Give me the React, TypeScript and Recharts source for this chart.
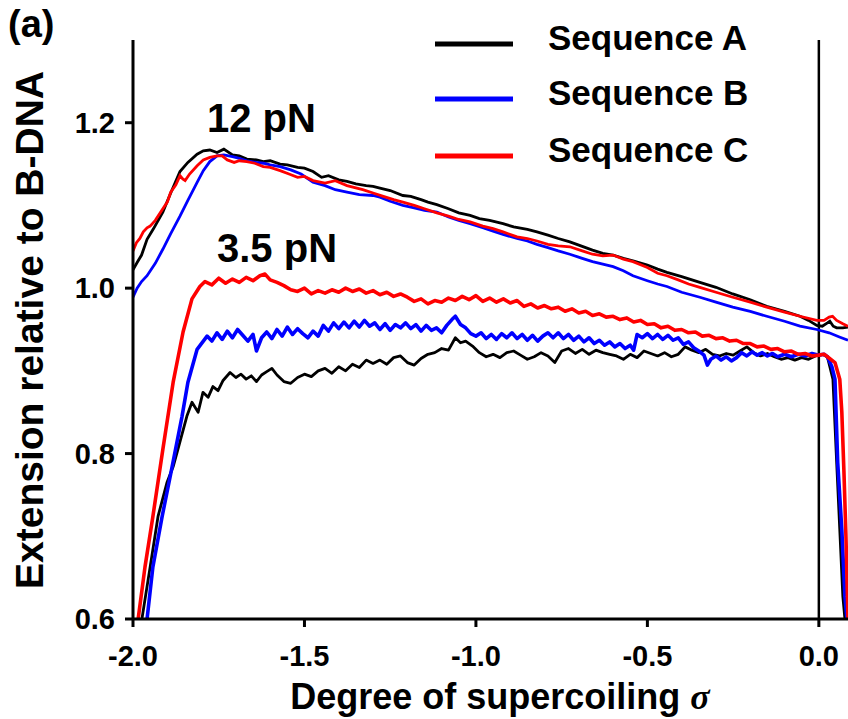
import React from "react";
import {
  LineChart,
  Line,
  XAxis,
  YAxis,
  Legend,
  ReferenceLine,
} from "recharts";

const sigmaTicks = [-2, -1.5, -1, -0.5, 0];
const extTicks = [0.6, 0.8, 1.0, 1.2];
const seriesNames = ["Sequence A", "Sequence B", "Sequence C"];
const forceLabels = ["12 pN", "3.5 pN"];

// 12 pN traces: [sigma, extension]
const seqA12 = [
  [-2.0, 1.022], [-1.988, 1.031], [-1.975, 1.04], [-1.959, 1.059], [-1.94, 1.072], [-1.913, 1.092],
  [-1.89, 1.115], [-1.863, 1.141], [-1.84, 1.152], [-1.813, 1.162], [-1.795, 1.166], [-1.776, 1.167],
  [-1.755, 1.164], [-1.735, 1.168], [-1.71, 1.161], [-1.69, 1.16], [-1.668, 1.156], [-1.64, 1.155],
  [-1.62, 1.153], [-1.6, 1.154], [-1.571, 1.15], [-1.55, 1.149], [-1.52, 1.146], [-1.5, 1.145],
  [-1.475, 1.141], [-1.45, 1.134], [-1.43, 1.136], [-1.4, 1.131], [-1.376, 1.129], [-1.35, 1.126],
  [-1.32, 1.124], [-1.3, 1.123], [-1.28, 1.121], [-1.25, 1.118], [-1.213, 1.112], [-1.19, 1.111],
  [-1.16, 1.107], [-1.14, 1.104], [-1.114, 1.101], [-1.08, 1.096], [-1.05, 1.091], [-1.017, 1.088],
  [-0.99, 1.084], [-0.96, 1.082], [-0.921, 1.078], [-0.89, 1.074], [-0.85, 1.071], [-0.822, 1.068],
  [-0.79, 1.064], [-0.76, 1.06], [-0.726, 1.056], [-0.7, 1.052], [-0.66, 1.046], [-0.63, 1.042],
  [-0.6, 1.04], [-0.57, 1.036], [-0.542, 1.033], [-0.5, 1.028], [-0.47, 1.023], [-0.443, 1.019],
  [-0.4, 1.014], [-0.37, 1.01], [-0.347, 1.007], [-0.3, 1.001], [-0.251, 0.993], [-0.2, 0.986],
  [-0.152, 0.978], [-0.1, 0.972], [-0.055, 0.966], [-0.03, 0.961], [-0.006, 0.955], [0.01, 0.954],
  [0.025, 0.958], [0.032, 0.96], [0.042, 0.954], [0.052, 0.952], [0.07, 0.952], [0.085, 0.953],
];

const seqB12 = [
  [-2.0, 0.989], [-1.988, 1.0], [-1.975, 1.008], [-1.959, 1.015], [-1.935, 1.03], [-1.913, 1.047],
  [-1.89, 1.066], [-1.863, 1.087], [-1.84, 1.106], [-1.813, 1.128], [-1.795, 1.142], [-1.776, 1.153],
  [-1.755, 1.16], [-1.735, 1.161], [-1.71, 1.159], [-1.69, 1.157], [-1.668, 1.154], [-1.64, 1.152],
  [-1.62, 1.151], [-1.6, 1.149], [-1.571, 1.147], [-1.54, 1.143], [-1.51, 1.138], [-1.475, 1.128],
  [-1.44, 1.124], [-1.41, 1.119], [-1.376, 1.116], [-1.34, 1.113], [-1.3, 1.112], [-1.28, 1.11],
  [-1.25, 1.105], [-1.213, 1.1], [-1.18, 1.097], [-1.15, 1.094], [-1.114, 1.092], [-1.08, 1.086],
  [-1.05, 1.082], [-1.017, 1.078], [-0.98, 1.073], [-0.95, 1.069], [-0.921, 1.065], [-0.88, 1.06],
  [-0.85, 1.057], [-0.822, 1.053], [-0.79, 1.049], [-0.76, 1.045], [-0.726, 1.041], [-0.69, 1.036],
  [-0.66, 1.032], [-0.63, 1.029], [-0.6, 1.026], [-0.57, 1.021], [-0.542, 1.015], [-0.5, 1.009],
  [-0.47, 1.005], [-0.443, 1.002], [-0.4, 0.995], [-0.347, 0.989], [-0.3, 0.983], [-0.251, 0.977],
  [-0.2, 0.972], [-0.152, 0.966], [-0.1, 0.96], [-0.055, 0.954], [-0.006, 0.95], [0.03, 0.946],
  [0.06, 0.941], [0.085, 0.937],
];

const seqC12 = [
  [-2.0, 1.045], [-1.99, 1.055], [-1.98, 1.06], [-1.97, 1.068], [-1.959, 1.073], [-1.95, 1.075],
  [-1.935, 1.082], [-1.913, 1.096], [-1.9, 1.104], [-1.89, 1.116], [-1.875, 1.125], [-1.863, 1.136],
  [-1.855, 1.132], [-1.848, 1.13], [-1.835, 1.138], [-1.813, 1.148], [-1.795, 1.155], [-1.776, 1.158],
  [-1.755, 1.16], [-1.74, 1.16], [-1.725, 1.155], [-1.705, 1.152], [-1.69, 1.154], [-1.668, 1.153],
  [-1.645, 1.151], [-1.62, 1.147], [-1.6, 1.146], [-1.571, 1.142], [-1.545, 1.138], [-1.52, 1.134],
  [-1.5, 1.135], [-1.475, 1.13], [-1.44, 1.127], [-1.41, 1.13], [-1.376, 1.124], [-1.33, 1.119],
  [-1.3, 1.115], [-1.27, 1.111], [-1.24, 1.107], [-1.213, 1.104], [-1.18, 1.1], [-1.15, 1.096],
  [-1.114, 1.091], [-1.08, 1.087], [-1.05, 1.083], [-1.017, 1.08], [-0.98, 1.075], [-0.95, 1.072],
  [-0.921, 1.068], [-0.88, 1.062], [-0.85, 1.06], [-0.822, 1.057], [-0.79, 1.053], [-0.76, 1.051],
  [-0.726, 1.05], [-0.69, 1.045], [-0.66, 1.041], [-0.63, 1.039], [-0.6, 1.04], [-0.57, 1.035],
  [-0.542, 1.032], [-0.5, 1.025], [-0.47, 1.018], [-0.443, 1.015], [-0.41, 1.01], [-0.38, 1.005],
  [-0.347, 1.001], [-0.3, 0.995], [-0.251, 0.989], [-0.2, 0.983], [-0.152, 0.977], [-0.1, 0.971],
  [-0.055, 0.966], [-0.006, 0.961], [0.015, 0.961], [0.03, 0.965], [0.04, 0.966], [0.052, 0.961],
  [0.07, 0.957], [0.085, 0.954],
];

// 3.5 pN traces
const seqA35 = [
  [-1.974, 0.6], [-1.95, 0.663], [-1.927, 0.724], [-1.901, 0.765], [-1.883, 0.784], [-1.869, 0.805],
  [-1.843, 0.845], [-1.828, 0.862], [-1.81, 0.85], [-1.796, 0.874], [-1.781, 0.868], [-1.767, 0.881],
  [-1.752, 0.876], [-1.738, 0.888], [-1.717, 0.898], [-1.7, 0.892], [-1.685, 0.896], [-1.67, 0.89],
  [-1.655, 0.894], [-1.64, 0.887], [-1.625, 0.895], [-1.61, 0.899], [-1.595, 0.903], [-1.58, 0.895],
  [-1.56, 0.887], [-1.54, 0.885], [-1.52, 0.892], [-1.5, 0.896], [-1.48, 0.893], [-1.46, 0.9],
  [-1.44, 0.903], [-1.42, 0.897], [-1.4, 0.905], [-1.38, 0.9], [-1.36, 0.908], [-1.34, 0.904],
  [-1.32, 0.913], [-1.3, 0.909], [-1.28, 0.913], [-1.26, 0.908], [-1.24, 0.916], [-1.22, 0.918],
  [-1.2, 0.91], [-1.18, 0.907], [-1.16, 0.915], [-1.14, 0.92], [-1.12, 0.922], [-1.1, 0.927],
  [-1.08, 0.925], [-1.06, 0.94], [-1.045, 0.934], [-1.03, 0.936], [-1.01, 0.93], [-0.99, 0.922],
  [-0.97, 0.917], [-0.95, 0.92], [-0.93, 0.916], [-0.91, 0.922], [-0.89, 0.924], [-0.87, 0.919],
  [-0.85, 0.914], [-0.83, 0.917], [-0.81, 0.922], [-0.79, 0.918], [-0.77, 0.91], [-0.75, 0.924],
  [-0.73, 0.927], [-0.71, 0.921], [-0.69, 0.926], [-0.67, 0.92], [-0.65, 0.925], [-0.63, 0.922],
  [-0.61, 0.92], [-0.59, 0.918], [-0.57, 0.914], [-0.55, 0.92], [-0.53, 0.916], [-0.51, 0.924],
  [-0.49, 0.921], [-0.47, 0.918], [-0.45, 0.922], [-0.43, 0.917], [-0.41, 0.92], [-0.39, 0.929],
  [-0.37, 0.925], [-0.35, 0.922], [-0.33, 0.926], [-0.31, 0.92], [-0.29, 0.918], [-0.27, 0.921],
  [-0.25, 0.919], [-0.23, 0.924], [-0.21, 0.929], [-0.19, 0.922], [-0.17, 0.918], [-0.15, 0.921],
  [-0.13, 0.917], [-0.11, 0.914], [-0.09, 0.916], [-0.07, 0.913], [-0.05, 0.916], [-0.03, 0.914],
  [-0.01, 0.918], [0.01, 0.92], [0.025, 0.917], [0.032, 0.905], [0.041, 0.89], [0.052, 0.789],
  [0.061, 0.708], [0.07, 0.627], [0.076, 0.6],
];

const seqB35 = [
  [-1.959, 0.6], [-1.942, 0.663], [-1.915, 0.724], [-1.886, 0.784], [-1.857, 0.845], [-1.84, 0.886],
  [-1.813, 0.926], [-1.784, 0.942], [-1.77, 0.936], [-1.755, 0.946], [-1.74, 0.938], [-1.725, 0.948],
  [-1.71, 0.94], [-1.695, 0.95], [-1.68, 0.943], [-1.665, 0.936], [-1.65, 0.944], [-1.64, 0.924],
  [-1.625, 0.94], [-1.61, 0.947], [-1.595, 0.939], [-1.58, 0.95], [-1.565, 0.942], [-1.55, 0.953],
  [-1.535, 0.944], [-1.52, 0.951], [-1.505, 0.945], [-1.49, 0.94], [-1.475, 0.948], [-1.46, 0.942],
  [-1.445, 0.955], [-1.43, 0.948], [-1.415, 0.958], [-1.4, 0.951], [-1.385, 0.959], [-1.37, 0.952],
  [-1.355, 0.96], [-1.34, 0.953], [-1.325, 0.961], [-1.31, 0.954], [-1.295, 0.958], [-1.28, 0.95],
  [-1.265, 0.957], [-1.25, 0.949], [-1.235, 0.956], [-1.22, 0.952], [-1.205, 0.958], [-1.19, 0.951],
  [-1.175, 0.956], [-1.16, 0.948], [-1.145, 0.955], [-1.13, 0.949], [-1.115, 0.952], [-1.1, 0.946],
  [-1.085, 0.955], [-1.07, 0.962], [-1.06, 0.966], [-1.045, 0.956], [-1.03, 0.952], [-1.015, 0.945],
  [-1.0, 0.942], [-0.985, 0.946], [-0.97, 0.939], [-0.955, 0.944], [-0.94, 0.938], [-0.925, 0.945],
  [-0.91, 0.94], [-0.895, 0.946], [-0.88, 0.939], [-0.865, 0.944], [-0.85, 0.937], [-0.835, 0.943],
  [-0.82, 0.936], [-0.805, 0.942], [-0.79, 0.946], [-0.775, 0.94], [-0.76, 0.946], [-0.745, 0.939],
  [-0.73, 0.944], [-0.715, 0.937], [-0.7, 0.942], [-0.685, 0.935], [-0.67, 0.94], [-0.655, 0.933],
  [-0.64, 0.937], [-0.625, 0.931], [-0.61, 0.935], [-0.595, 0.929], [-0.58, 0.933], [-0.565, 0.927],
  [-0.55, 0.931], [-0.54, 0.925], [-0.53, 0.944], [-0.515, 0.94], [-0.5, 0.945], [-0.485, 0.939],
  [-0.47, 0.944], [-0.455, 0.938], [-0.44, 0.943], [-0.425, 0.937], [-0.41, 0.94], [-0.395, 0.932],
  [-0.38, 0.935], [-0.365, 0.928], [-0.35, 0.924], [-0.335, 0.919], [-0.325, 0.907], [-0.315, 0.914],
  [-0.3, 0.918], [-0.285, 0.913], [-0.27, 0.917], [-0.255, 0.912], [-0.24, 0.916], [-0.225, 0.922],
  [-0.21, 0.918], [-0.195, 0.923], [-0.18, 0.919], [-0.165, 0.922], [-0.15, 0.918], [-0.135, 0.921],
  [-0.12, 0.917], [-0.1, 0.92], [-0.08, 0.917], [-0.06, 0.92], [-0.04, 0.918], [-0.02, 0.921],
  [0.0, 0.919], [0.015, 0.92], [0.025, 0.917], [0.038, 0.905], [0.047, 0.89], [0.055, 0.789],
  [0.067, 0.708], [0.076, 0.627], [0.082, 0.6],
];

const seqC35 = [
  [-1.985, 0.6], [-1.965, 0.663], [-1.942, 0.724], [-1.913, 0.805], [-1.883, 0.886], [-1.854, 0.947],
  [-1.828, 0.987], [-1.805, 1.002], [-1.79, 1.008], [-1.77, 1.004], [-1.75, 1.012], [-1.73, 1.006],
  [-1.71, 1.011], [-1.69, 1.007], [-1.67, 1.013], [-1.65, 1.009], [-1.63, 1.015], [-1.615, 1.017],
  [-1.6, 1.01], [-1.58, 1.007], [-1.56, 1.003], [-1.54, 0.998], [-1.52, 0.996], [-1.5, 1.0],
  [-1.48, 0.993], [-1.46, 0.997], [-1.44, 0.994], [-1.42, 0.998], [-1.4, 0.995], [-1.38, 1.0],
  [-1.36, 0.996], [-1.34, 0.999], [-1.32, 0.994], [-1.3, 0.997], [-1.28, 0.992], [-1.26, 0.995],
  [-1.24, 0.99], [-1.22, 0.993], [-1.2, 0.989], [-1.18, 0.984], [-1.16, 0.987], [-1.14, 0.981],
  [-1.12, 0.985], [-1.1, 0.983], [-1.08, 0.988], [-1.06, 0.985], [-1.04, 0.99], [-1.02, 0.986],
  [-1.0, 0.991], [-0.98, 0.984], [-0.96, 0.988], [-0.94, 0.983], [-0.92, 0.987], [-0.9, 0.982],
  [-0.88, 0.985], [-0.86, 0.978], [-0.84, 0.981], [-0.82, 0.976], [-0.8, 0.979], [-0.78, 0.975],
  [-0.76, 0.977], [-0.74, 0.972], [-0.72, 0.975], [-0.7, 0.97], [-0.68, 0.972], [-0.66, 0.967],
  [-0.64, 0.969], [-0.62, 0.965], [-0.6, 0.966], [-0.58, 0.962], [-0.56, 0.964], [-0.54, 0.959],
  [-0.52, 0.961], [-0.5, 0.956], [-0.48, 0.957], [-0.46, 0.952], [-0.44, 0.954], [-0.42, 0.949],
  [-0.4, 0.95], [-0.38, 0.946], [-0.36, 0.947], [-0.34, 0.942], [-0.32, 0.943], [-0.3, 0.939],
  [-0.28, 0.94], [-0.26, 0.936], [-0.24, 0.937], [-0.22, 0.933], [-0.2, 0.933], [-0.18, 0.929],
  [-0.16, 0.93], [-0.14, 0.926], [-0.12, 0.927], [-0.1, 0.923], [-0.08, 0.924], [-0.06, 0.92],
  [-0.04, 0.921], [-0.02, 0.918], [0.0, 0.919], [0.015, 0.92], [0.025, 0.917], [0.047, 0.91],
  [0.061, 0.89], [0.067, 0.85], [0.073, 0.78], [0.079, 0.7], [0.085, 0.6],
];

const toPoints = (arr: number[][]) => arr.map(([x, y]) => ({ x, y }));

const colors = ["#000000", "#0000ff", "#ff0000"];
const width35 = [2.8, 3.6, 3.6];
const sansBold = {
  fontFamily: "'Liberation Sans', Arial, sans-serif",
  fontWeight: 700,
  fill: "#000",
};

const XTick = ({ x, y, payload }: any) => (
  <text x={x} y={y + 37} textAnchor="middle" fontSize={29} style={sansBold}>
    {Number(payload.value).toFixed(1)}
  </text>
);

const YTick = ({ x, y, payload }: any) => (
  <text x={x - 8} y={y + 10} textAnchor="end" fontSize={29} style={sansBold}>
    {Number(payload.value).toFixed(1)}
  </text>
);

const LegendBox = ({ payload }: any) => {
  const items = (payload || []).filter((p: any) => seriesNames.includes(p.value));
  return (
    <svg width={420} height={180}>
      {items.map((p: any, i: number) => {
        const cy = [44, 99, 156][i];
        return (
          <g key={p.value}>
            <line x1={15} x2={93} y1={cy} y2={cy} stroke={p.color} strokeWidth={5} />
            <text x={128} y={cy + 6} fontSize={35} style={sansBold}>
              {p.value}
            </text>
          </g>
        );
      })}
    </svg>
  );
};

export default function App() {
  const lines12 = [seqA12, seqB12, seqC12];
  const lines35 = [seqA35, seqB35, seqC35];
  return (
    <div style={{ position: "absolute", left: 0, top: 0, width: 848, height: 719, background: "#fff" }}>
      <LineChart width={848} height={719} margin={{ top: 40, right: 0, bottom: 0, left: 0 }}>
        <XAxis
          type="number"
          dataKey="x"
          domain={[-2, 0.085]}
          allowDataOverflow
          ticks={sigmaTicks}
          height={100}
          tickSize={8}
          axisLine={{ stroke: "#000", strokeWidth: 3 }}
          tickLine={{ stroke: "#000", strokeWidth: 3 }}
          tick={<XTick />}
        />
        <YAxis
          type="number"
          dataKey="y"
          domain={[0.6, 1.3]}
          allowDataOverflow
          ticks={extTicks}
          width={133}
          tickSize={8}
          axisLine={{ stroke: "#000", strokeWidth: 3 }}
          tickLine={{ stroke: "#000", strokeWidth: 3 }}
          tick={<YTick />}
        />
        <ReferenceLine x={0} stroke="#000" strokeWidth={2.5} />
        {lines35.map((d, i) => (
          <Line
            key={"f35" + i}
            data={toPoints(d)}
            dataKey="y"
            name={seriesNames[i] + " 3.5"}
            type="linear"
            stroke={colors[i]}
            strokeWidth={width35[i]}
            strokeLinejoin="round"
            dot={false}
            legendType="none"
            isAnimationActive={false}
          />
        ))}
        {lines12.map((d, i) => (
          <Line
            key={"f12" + i}
            data={toPoints(d)}
            dataKey="y"
            name={seriesNames[i]}
            type="linear"
            stroke={colors[i]}
            strokeWidth={2.8}
            dot={false}
            isAnimationActive={false}
          />
        ))}
        <Legend
          layout="horizontal"
          verticalAlign="middle"
          align="center"
          content={<LegendBox />}
          wrapperStyle={{ left: 420, top: 0, width: 420, height: 180 }}
        />
      </LineChart>
      <svg
        width={848}
        height={719}
        style={{ position: "absolute", left: 0, top: 0, pointerEvents: "none" }}
      >
        <text x={8} y={37} fontSize={38} style={sansBold}>(a)</text>
        <text x={207} y={132} fontSize={40} style={sansBold}>{forceLabels[0]}</text>
        <text x={217} y={262} fontSize={40} style={sansBold}>{forceLabels[1]}</text>
        <text x={500} y={709} textAnchor="middle" fontSize={36} style={sansBold}>
          Degree of supercoiling{" "}
          <tspan fontFamily="'Liberation Serif', 'DejaVu Serif', serif" fontStyle="italic">
            σ
          </tspan>
        </text>
        <text
          transform="translate(43, 330) rotate(-90)"
          textAnchor="middle"
          fontSize={39}
          style={sansBold}
        >
          Extension relative to B-DNA
        </text>
      </svg>
    </div>
  );
}
